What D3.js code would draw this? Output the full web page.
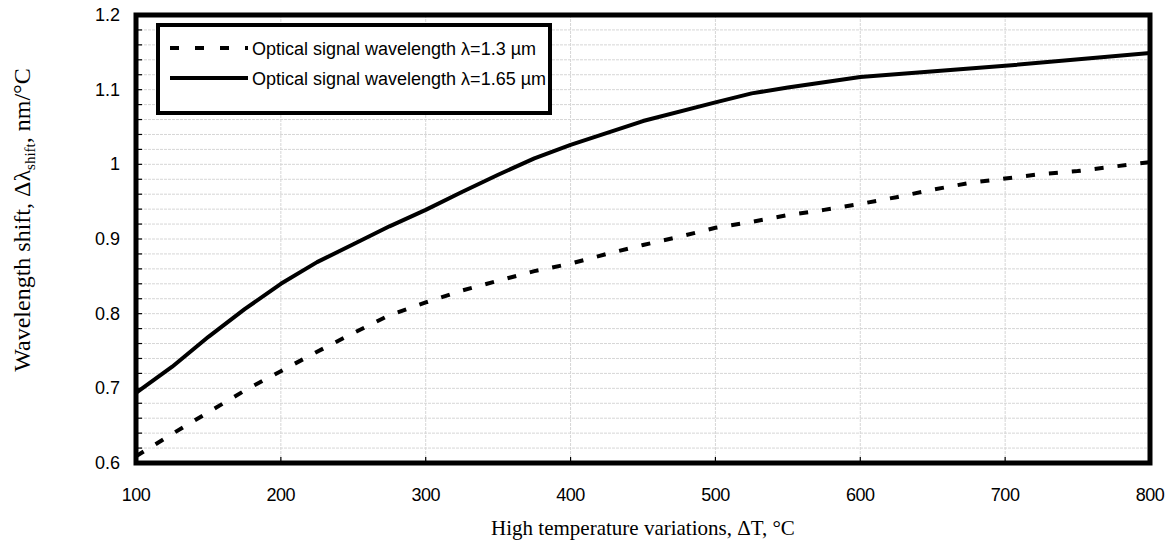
<!DOCTYPE html>
<html>
<head>
<meta charset="utf-8">
<script src="https://cdn.jsdelivr.net/npm/d3@7"></script>
<style>
  body { margin: 0; background: #fff; }
  .tick-label { font-family: "Liberation Sans", Arial, sans-serif; font-size: 18px; fill: #000; }
  .axis-title { font-family: "Liberation Serif", "Times New Roman", serif; font-size: 21px; fill: #000; }
  .legend-text { font-family: "Liberation Sans", Arial, sans-serif; font-size: 18px; fill: #000; }
</style>
</head>
<body>
<script>
// Temperature variation, deg C
var tempValues = [100, 125, 150, 175, 200, 225, 250, 275, 300, 325, 350, 375, 400, 425, 450, 475, 500, 525, 550, 575, 600, 625, 650, 675, 700, 725, 750, 775, 800];

// Wavelength shift, nm/deg C, for lambda = 1.3 um (dashed)
var shift13 = [0.609, 0.639, 0.668, 0.697, 0.723, 0.749, 0.774, 0.798, 0.815, 0.831, 0.844, 0.857, 0.867, 0.880, 0.892, 0.903, 0.915, 0.923, 0.932, 0.939, 0.947, 0.956, 0.966, 0.975, 0.981, 0.987, 0.991, 0.997, 1.003];

// lambda = 1.65 um (solid), points read at these temperatures
var temp165 = [100, 125, 150, 175, 200, 225, 250, 275, 300, 325, 350, 375, 400, 450, 500, 525, 550, 600, 700, 800];
var shift165 = [0.694, 0.729, 0.769, 0.806, 0.840, 0.869, 0.893, 0.917, 0.939, 0.963, 0.986, 1.008, 1.026, 1.058, 1.083, 1.095, 1.103, 1.117, 1.132, 1.149];

var xTicks = [100, 200, 300, 400, 500, 600, 700, 800];
var yTicks = [0.6, 0.7, 0.8, 0.9, 1, 1.1, 1.2];
var legendLabels = ["Optical signal wavelength \u03bb=1.3 \u00b5m", "Optical signal wavelength \u03bb=1.65 \u00b5m"];

// Screen / plot area
var W = 1172, H = 551;
var plot = { left: 136, right: 1150, top: 15, bottom: 463 };

var xScale = d3.scaleLinear().domain([100, 800]).range([plot.left, plot.right]);
var yScale = d3.scaleLinear().domain([0.6, 1.2]).range([plot.bottom, plot.top]);

var svg = d3.select("body").append("svg")
    .attr("width", W)
    .attr("height", H);

// Gridlines: horizontal every 0.02, vertical every 100
var hGrid = d3.range(0.62, 1.2, 0.02);
svg.append("g").selectAll("line")
    .data(hGrid)
  .enter().append("line")
    .attr("x1", plot.left).attr("x2", plot.right)
    .attr("y1", function(d) { return yScale(d); })
    .attr("y2", function(d) { return yScale(d); })
    .attr("stroke", "#d6d6d6")
    .attr("stroke-width", 1)
    .attr("stroke-dasharray", "3,1");

svg.append("g").selectAll("line")
    .data(xTicks.slice(1, -1))
  .enter().append("line")
    .attr("x1", function(d) { return xScale(d); })
    .attr("x2", function(d) { return xScale(d); })
    .attr("y1", plot.top).attr("y2", plot.bottom)
    .attr("stroke", "#d6d6d6")
    .attr("stroke-width", 1)
    .attr("stroke-dasharray", "3,1");

// small inward ticks on the left and bottom axes
svg.append("g").selectAll("line")
    .data(hGrid)
  .enter().append("line")
    .attr("x1", plot.left).attr("x2", plot.left + 6)
    .attr("y1", function(d) { return yScale(d); })
    .attr("y2", function(d) { return yScale(d); })
    .attr("stroke", "#000").attr("stroke-width", 1.2);

svg.append("g").selectAll("line")
    .data(xTicks.slice(1, -1))
  .enter().append("line")
    .attr("x1", function(d) { return xScale(d); })
    .attr("x2", function(d) { return xScale(d); })
    .attr("y1", plot.bottom).attr("y2", plot.bottom - 6)
    .attr("stroke", "#000").attr("stroke-width", 1.2);

// Tick labels
svg.append("g").selectAll("text")
    .data(yTicks)
  .enter().append("text")
    .attr("class", "tick-label")
    .attr("x", plot.left - 16)
    .attr("y", function(d) { return yScale(d) + 6; })
    .attr("text-anchor", "end")
    .text(function(d) { return d3.format("")(d); });

svg.append("g").selectAll("text")
    .data(xTicks)
  .enter().append("text")
    .attr("class", "tick-label")
    .attr("x", function(d) { return xScale(d); })
    .attr("y", 501)
    .attr("text-anchor", "middle")
    .attr("letter-spacing", "-0.5")
    .text(function(d) { return d; });

// Lines
var line = d3.line()
  .x(function(d) { return xScale(d.x); })
  .y(function(d) { return yScale(d.y); })
  .curve(d3.curveLinear);

var data13 = tempValues.map(function(t, i) { return { x: t, y: shift13[i] }; });
var data165 = temp165.map(function(t, i) { return { x: t, y: shift165[i] }; });

svg.append("path")
    .datum(data13)
    .attr("d", line)
    .attr("fill", "none")
    .attr("stroke", "#000")
    .attr("stroke-width", 4)
    .attr("stroke-dasharray", "9,14");

svg.append("path")
    .datum(data165)
    .attr("d", line)
    .attr("fill", "none")
    .attr("stroke", "#000")
    .attr("stroke-width", 4)
    .attr("stroke-linejoin", "round");

// Plot frame
svg.append("rect")
    .attr("x", plot.left).attr("y", plot.top)
    .attr("width", plot.right - plot.left)
    .attr("height", plot.bottom - plot.top)
    .attr("fill", "none")
    .attr("stroke", "#000")
    .attr("stroke-width", 5);

// Legend
var legend = svg.append("g");
legend.append("rect")
    .attr("x", 158).attr("y", 25)
    .attr("width", 392).attr("height", 88)
    .attr("fill", "#fff")
    .attr("stroke", "#000")
    .attr("stroke-width", 4);

var legendRows = legend.selectAll(".row")
    .data(legendLabels)
  .enter().append("g")
    .attr("class", "row")
    .attr("transform", function(d, i) { return "translate(170," + (48 + i * 30) + ")"; });

legendRows.append("line")
    .attr("x1", 0).attr("x2", 78)
    .attr("y1", 0).attr("y2", 0)
    .attr("stroke", "#000")
    .attr("stroke-width", 4)
    .attr("stroke-dasharray", function(d, i) { return i == 0 ? "9,16" : null; });

legendRows.append("text")
    .attr("class", "legend-text")
    .attr("x", 82)
    .attr("y", 6.5)
    .text(function(d) { return d; });

// Axis titles
svg.append("text")
    .attr("class", "axis-title")
    .attr("x", (plot.left + plot.right) / 2)
    .attr("y", 535)
    .attr("text-anchor", "middle")
    .text("High temperature variations, \u0394T, \u00b0C");

var yTitle = svg.append("text")
    .attr("class", "axis-title")
    .attr("font-size", "24px")
    .style("font-size", "24px")
    .attr("transform", "translate(30,220) rotate(-90)")
    .attr("text-anchor", "middle");
yTitle.append("tspan").text("Wavelength shift, \u0394\u03bb");
yTitle.append("tspan").style("font-size", "15px").attr("dy", 5).text("shift");
yTitle.append("tspan").attr("dy", -5).text(", nm/\u00b0C");
</script>
</body>
</html>
